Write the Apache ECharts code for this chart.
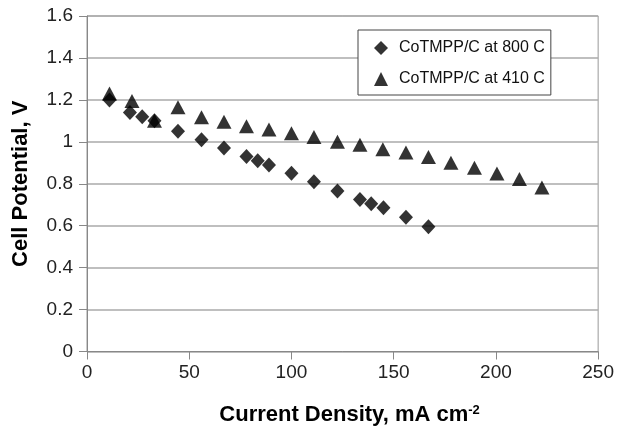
<!DOCTYPE html>
<html>
<head>
<meta charset="utf-8">
<script src="https://cdn.jsdelivr.net/npm/echarts@6/dist/echarts.min.js"></script>
<style>html,body{margin:0;padding:0;background:#fff}#c{width:617px;height:431px}</style>
</head>
<body>
<div id="c"></div>
<script>
// Data
var seriesNames = ['CoTMPP/C at 800 C', 'CoTMPP/C at 410 C'];
var x800 = [11, 21, 27, 33, 44.5, 56, 67, 78, 83.5, 89, 100, 111, 122.5, 133.5, 139, 145, 156, 167];
var y800 = [1.20, 1.14, 1.12, 1.10, 1.05, 1.01, 0.97, 0.93, 0.91, 0.89, 0.85, 0.81, 0.765, 0.725, 0.705, 0.685, 0.64, 0.595];
var x410 = [11, 22, 33, 44.5, 56, 67, 78, 89, 100, 111, 122.5, 133.5, 144.7, 156, 167, 178, 189.5, 200.5, 211.5, 222.5];
var y410 = [1.23, 1.195, 1.10, 1.165, 1.117, 1.096, 1.074, 1.059, 1.041, 1.023, 1.0, 0.986, 0.964, 0.949, 0.928, 0.90, 0.876, 0.849, 0.823, 0.782];
var xTicks = [0, 50, 100, 150, 200, 250];
var yTicks = [0, 0.2, 0.4, 0.6, 0.8, 1, 1.2, 1.4, 1.6];

function pairs(xs, ys) { return xs.map(function (v, i) { return [v, ys[i]]; }); }

var chart = echarts.init(document.getElementById('c'));
var font = 'Liberation Sans, Arial, sans-serif';
chart.setOption({
  animation: false,
  backgroundColor: '#fff',
  textStyle: { fontFamily: font },
  grid: { left: 87, right: 17, top: 16, bottom: 76, show: true, borderColor: '#999', borderWidth: 1 },
  legend: {
    orient: 'vertical',
    left: 358, top: 30,
    padding: [10, 6, 8, 16],
    itemGap: 15,
    itemWidth: 14, itemHeight: 14,
    borderColor: '#444', borderWidth: 1,
    backgroundColor: '#fff',
    textStyle: { fontSize: 16, color: '#111', fontFamily: font, padding: [0, 0, 0, 6] },
    data: [
      { name: seriesNames[0], icon: 'diamond' },
      { name: seriesNames[1], icon: 'triangle' }
    ]
  },
  xAxis: {
    type: 'value', min: 0, max: 250, interval: 50,
    name: '{a|Current Density, mA cm}{s|-2}',
    nameLocation: 'middle', nameGap: 52,
    nameTextStyle: {
      rich: {
        a: { fontSize: 22, fontWeight: 'bold', color: '#000', fontFamily: font, padding: [0, 0, 0, 14] },
        s: { fontSize: 13, fontWeight: 'bold', color: '#000', fontFamily: font, verticalAlign: 'top', padding: [0, 0, 10, 0] }
      }
    },
    axisLine: { show: true, lineStyle: { color: '#888', width: 1 } },
    axisTick: { show: true, length: 8, lineStyle: { color: '#888' } },
    axisLabel: { fontSize: 19, color: '#222', margin: 12, formatter: function (v) { return xTicks.indexOf(v) >= 0 ? String(v) : ''; } },
    splitLine: { show: false }
  },
  yAxis: {
    type: 'value', min: 0, max: 1.6, interval: 0.2,
    name: 'Cell Potential, V',
    nameLocation: 'middle', nameGap: 55,
    nameTextStyle: { fontSize: 22, fontWeight: 'bold', color: '#000' },
    axisLine: { show: true, lineStyle: { color: '#888', width: 1 } },
    axisTick: { show: true, length: 8, lineStyle: { color: '#888' } },
    axisLabel: { fontSize: 19, color: '#222', margin: 14, formatter: function (v) {
      var r = Math.round(v * 10) / 10; return yTicks.indexOf(r) >= 0 ? String(r) : ''; } },
    splitLine: { show: true, lineStyle: { color: '#aaa', width: 1.5 } }
  },
  series: [
    { name: seriesNames[0], type: 'scatter', symbol: 'diamond', symbolSize: [14, 15],
      itemStyle: { color: '#000' }, data: pairs(x800, y800) },
    { name: seriesNames[1], type: 'scatter', symbol: 'triangle', symbolSize: [15, 14],
      itemStyle: { color: '#000' }, data: pairs(x410, y410) }
  ]
});
</script>
</body>
</html>
